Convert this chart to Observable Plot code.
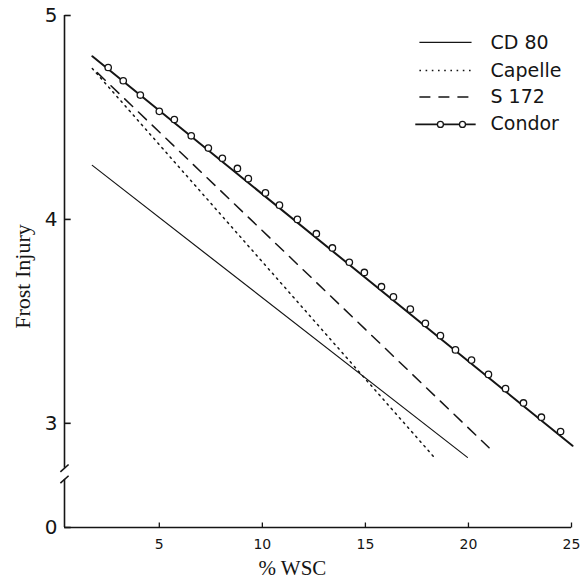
<!DOCTYPE html>
<html><head><meta charset="utf-8">
<script src="https://cdn.jsdelivr.net/npm/d3@7"></script>
<script src="https://cdn.jsdelivr.net/npm/@observablehq/plot@0.6"></script>
<style>body{margin:0;background:#fff}</style>
</head><body><div id="chart"></div>
<script>
// ---- data ----
const xTicks = [5, 10, 15, 20, 25];
const yTicks = [0, 3, 4, 5];
const cd80X = [1.75, 19.95];
const cd80Y = [4.265, 2.833];
const capelleX = [1.75, 18.3];
const capelleY = [4.74, 2.838];
const s172X = [1.99, 21.0];
const s172Y = [4.72, 2.88];
const condorLineX = [1.75, 25.05];
const condorLineY = [4.80, 2.89];
const condorX = [2.52, 3.25, 4.08, 5.00, 5.73, 6.55, 7.38, 8.06, 8.79, 9.32, 10.15, 10.83, 11.70, 12.62, 13.40, 14.22, 14.95, 15.78, 16.36, 17.18, 17.91, 18.64, 19.37, 20.15, 20.97, 21.80, 22.67, 23.54, 24.47];
const condorY = [4.745, 4.68, 4.61, 4.53, 4.49, 4.41, 4.35, 4.30, 4.25, 4.20, 4.13, 4.07, 4.00, 3.93, 3.86, 3.79, 3.74, 3.67, 3.62, 3.56, 3.49, 3.43, 3.36, 3.31, 3.24, 3.17, 3.10, 3.03, 2.96];
const legendNames = ["CD 80", "Capelle", "S 172", "Condor"];
const yBreaks = [2.78, 2.725];

// ---- layout ----
const X0 = 0.4, X1 = 25;
const legendRowY = [4.868, 4.73, 4.60, 4.466];
const legX1 = 17.62, legX2 = 20.15, legText = 21.07;
const ink = "#151515";
const handFont = "DejaVu Sans";
const serif = "Liberation Serif";
// broken (piecewise) value axis: 0..2.7 compressed, 2.7..5 linear
const Y = d3.scaleLinear().domain([0, 2.70, 5]).range([527, 484, 15]);
const pts = (xs, ys) => xs.map((x, i) => ({x, y: ys[i]}));

const plot = Plot.plot({
  width: 586,
  height: 581,
  marginLeft: 64,
  marginRight: 15,
  marginTop: 15,
  marginBottom: 54,
  style: {background: "#fff", color: ink},
  x: {domain: [X0, X1], axis: null},
  y: {type: "identity", axis: null},
  marks: [
    // axes
    Plot.ruleX([X0], {y1: Y(yBreaks[0]), y2: Y(5), stroke: ink, strokeWidth: 1.6}),
    Plot.ruleX([X0], {y1: Y(0), y2: Y(yBreaks[1]), stroke: ink, strokeWidth: 1.6}),
    Plot.link(yBreaks, {x1: X0 - 0.2, x2: X0 + 0.2, y1: d => Y(d - 0.018), y2: d => Y(d + 0.018), stroke: ink, strokeWidth: 1.6}),
    Plot.ruleY([Y(0)], {x1: X0, x2: X1, stroke: ink, strokeWidth: 1.4}),
    Plot.link(yTicks, {x1: X0, x2: X0 + 0.3, y1: d => Y(d), y2: d => Y(d), stroke: ink, strokeWidth: 1.6}),
    Plot.link(xTicks, {x1: d => d, x2: d => d, y1: Y(0), y2: Y(0) - 5, stroke: ink, strokeWidth: 1.3}),
    Plot.text(yTicks, {x: X0, y: d => Y(d), text: d => String(d), textAnchor: "end", dx: -7, fontSize: 20, fontFamily: handFont, fill: ink}),
    Plot.text(xTicks, {x: d => d, y: Y(0), text: d => String(d), dy: 17, fontSize: 14, fontFamily: handFont, fill: ink}),
    Plot.text(["Frost Injury"], {x: X0, y: Y(3.72), dx: -42, rotate: -90, fontSize: 22, fontFamily: serif, fill: ink}),
    Plot.text(["% WSC"], {x: 11.46, y: Y(0), dy: 41, fontSize: 21, fontFamily: serif, fill: ink}),
    // series
    Plot.line(pts(cd80X, cd80Y), {x: "x", y: d => Y(d.y), stroke: ink, strokeWidth: 1.2}),
    Plot.line(pts(capelleX, capelleY), {x: "x", y: d => Y(d.y), stroke: ink, strokeWidth: 1.5, strokeDasharray: "1.6,4.6"}),
    Plot.line(pts(s172X, s172Y), {x: "x", y: d => Y(d.y), stroke: ink, strokeWidth: 1.5, strokeDasharray: "11,8"}),
    Plot.line(pts(condorLineX, condorLineY), {x: "x", y: d => Y(d.y), stroke: ink, strokeWidth: 2}),
    Plot.dot(pts(condorX, condorY), {x: "x", y: d => Y(d.y), r: 3.2, fill: "#fff", stroke: ink, strokeWidth: 1.3}),
    // legend
    Plot.link([legendNames[0]], {x1: legX1, x2: legX2, y1: Y(legendRowY[0]), y2: Y(legendRowY[0]), stroke: ink, strokeWidth: 1.2}),
    Plot.link([legendNames[1]], {x1: legX1, x2: legX2, y1: Y(legendRowY[1]), y2: Y(legendRowY[1]), stroke: ink, strokeWidth: 1.5, strokeDasharray: "1.6,4.6"}),
    Plot.link([legendNames[2]], {x1: legX1, x2: legX2, y1: Y(legendRowY[2]), y2: Y(legendRowY[2]), stroke: ink, strokeWidth: 1.5, strokeDasharray: "11,8"}),
    Plot.link([legendNames[3]], {x1: legX1 - 0.2, x2: legX2 + 0.2, y1: Y(legendRowY[3]), y2: Y(legendRowY[3]), stroke: ink, strokeWidth: 1.6}),
    Plot.dot([18.64, 19.71], {x: d => d, y: Y(legendRowY[3]), r: 3, fill: "#fff", stroke: ink, strokeWidth: 1.3}),
    Plot.text(legendNames, {x: legText, y: (d, i) => Y(legendRowY[i]), text: d => d, textAnchor: "start", fontSize: 19, fontFamily: handFont, fill: ink})
  ]
});
document.getElementById("chart").appendChild(plot);
</script></body></html>
